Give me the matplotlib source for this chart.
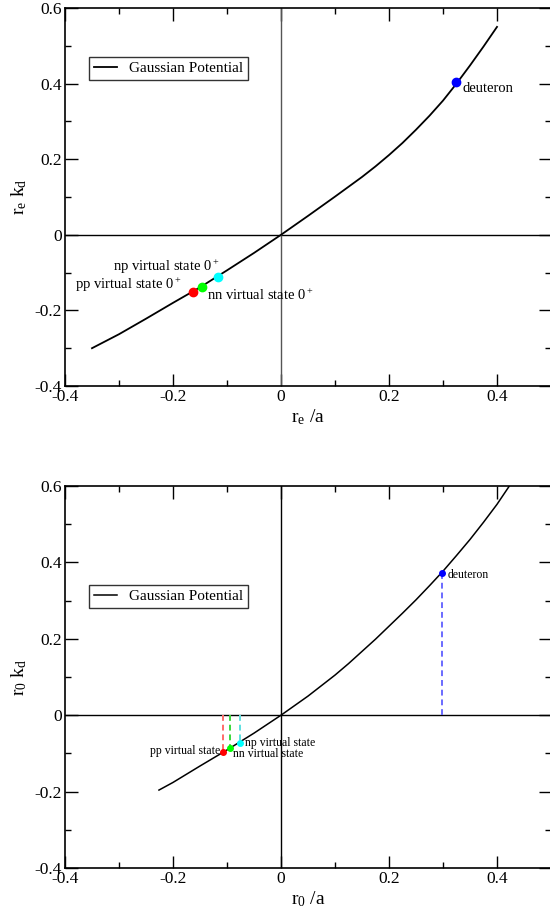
import matplotlib
matplotlib.use("Agg")
import matplotlib.pyplot as plt
from matplotlib.ticker import MultipleLocator

plt.rcParams['font.family'] = ['Liberation Serif', 'DejaVu Serif']
plt.rcParams['mathtext.fontset'] = 'custom'
plt.rcParams['mathtext.rm'] = 'Liberation Serif'
plt.rcParams['mathtext.it'] = 'Liberation Serif:italic'

# top panel: r_e k_d vs r_e/a
re_x = [-0.35, -0.3, -0.25, -0.2, -0.15, -0.1, -0.05, 0, 0.05, 0.1, 0.15, 0.175, 0.2,
        0.225, 0.25, 0.275, 0.3, 0.325, 0.35, 0.375, 0.4]
re_y = [-0.300, -0.263, -0.222, -0.180, -0.139, -0.094, -0.048, 0, 0.050, 0.101, 0.153, 0.181, 0.211,
        0.243, 0.278, 0.315, 0.355, 0.400, 0.448, 0.498, 0.550]

# bottom panel: r_0 k_d vs r_0/a
r0_x = [-0.226, -0.2, -0.15, -0.1, -0.05, 0, 0.05, 0.1, 0.125, 0.15, 0.175, 0.2, 0.225, 0.25,
        0.275, 0.3, 0.325, 0.35, 0.375, 0.4, 0.43]
r0_y = [-0.196, -0.176, -0.133, -0.091, -0.047, 0, 0.050, 0.105, 0.135, 0.167, 0.199, 0.233, 0.267, 0.302,
        0.339, 0.377, 0.418, 0.460, 0.505, 0.552, 0.615]

states = ['pp', 'nn', 'np', 'deuteron']
colors = ['red', 'lime', 'cyan', 'blue']
dash_colors = ['#ff6a6a', '#3ad83a', '#5ee0e0', '#6a6aff']

re_pts_x = [-0.163, -0.146, -0.117, 0.324]
re_pts_y = [-0.151, -0.138, -0.111, 0.405]
r0_pts_x = [-0.107, -0.094, -0.076, 0.298]
r0_pts_y = [-0.097, -0.087, -0.072, 0.372]


def style_axes(ax, xlabel, ylabel):
    ax.set_xlim(-0.4, 0.5)
    ax.set_ylim(-0.4, 0.6)
    ax.xaxis.set_minor_locator(MultipleLocator(0.1))
    ax.yaxis.set_minor_locator(MultipleLocator(0.1))
    ax.set_xticks([-0.4, -0.2, 0, 0.2, 0.4])
    ax.set_xticklabels(['-0.4', '-0.2', '0', '0.2', '0.4'])
    ax.set_yticks([-0.4, -0.2, 0, 0.2, 0.4, 0.6])
    ax.set_yticklabels(['-0.4', '-0.2', '0', '0.2', '0.4', '0.6'])
    ax.tick_params(which='both', direction='in', top=True, right=True,
                   labelsize=12.5, width=1, pad=2)
    ax.tick_params(which='major', length=9)
    ax.tick_params(which='minor', length=4.5)
    for s in ax.spines.values():
        s.set_linewidth(1.2)
    ax.set_xlabel(xlabel, fontsize=14, labelpad=2)
    ax.set_ylabel(ylabel, fontsize=14, labelpad=4)


fig = plt.figure(figsize=(5.5, 9.18), dpi=100)
ax1 = fig.add_axes([65 / 550, 1 - 386 / 918, 486 / 550, 378 / 918])
ax2 = fig.add_axes([65 / 550, 1 - 868 / 918, 486 / 550, 382 / 918])

# top panel
ax1.axhline(0, color='black', lw=1)
ax1.axvline(0, color='#555555', lw=1)
ax1.plot(re_x, re_y, color='black', lw=1.3, label='Gaussian Potential')
for i in range(4):
    ax1.plot(re_pts_x[i], re_pts_y[i], 'o', color=colors[i], ms=6, zorder=5)
ax1.text(0.337, 0.387, 'deuteron', fontsize=10.5, va='center', ha='left')
ax1.text(-0.311, -0.085, 'np virtual state 0$^+$', fontsize=10.5, va='center', ha='left')
ax1.text(-0.381, -0.132, 'pp virtual state 0$^+$', fontsize=10.5, va='center', ha='left')
ax1.text(-0.137, -0.160, 'nn virtual state 0$^+$', fontsize=10.5, va='center', ha='left')
leg = ax1.legend(loc='upper left', bbox_to_anchor=(0.05, 0.87), fontsize=11,
                 frameon=True, fancybox=False, edgecolor='black',
                 handlelength=1.5, borderpad=0.3, handletextpad=0.8, borderaxespad=0)
leg.get_frame().set_linewidth(1)
style_axes(ax1, r'r$_\mathrm{e}$ /a', r'r$_\mathrm{e}$ k$_\mathrm{d}$')

# bottom panel
ax2.axhline(0, color='black', lw=1)
ax2.axvline(0, color='black', lw=1)
ax2.plot(r0_x, r0_y, color='black', lw=1.1, label='Gaussian Potential')
for i in range(4):
    ax2.plot([r0_pts_x[i], r0_pts_x[i]], [0, r0_pts_y[i]], ls='--', color=dash_colors[i],
             lw=1.4, dashes=(3, 2))
    ax2.plot(r0_pts_x[i], r0_pts_y[i], 'o', color=colors[i], ms=4, zorder=5)
ax2.text(0.309, 0.368, 'deuteron', fontsize=8.5, va='center', ha='left')
ax2.text(-0.066, -0.073, 'np virtual state', fontsize=8.5, va='center', ha='left')
ax2.text(-0.0895, -0.102, 'nn virtual state', fontsize=8.5, va='center', ha='left')
ax2.text(-0.113, -0.094, 'pp virtual state', fontsize=8.5, va='center', ha='right')
leg = ax2.legend(loc='upper left', bbox_to_anchor=(0.05, 0.741), fontsize=11,
                 frameon=True, fancybox=False, edgecolor='black',
                 handlelength=1.5, borderpad=0.3, handletextpad=0.8, borderaxespad=0)
leg.get_frame().set_linewidth(1)
style_axes(ax2, r'r$_\mathrm{0}$ /a', r'r$_\mathrm{0}$ k$_\mathrm{d}$')

fig.savefig('out.png', dpi=100)
